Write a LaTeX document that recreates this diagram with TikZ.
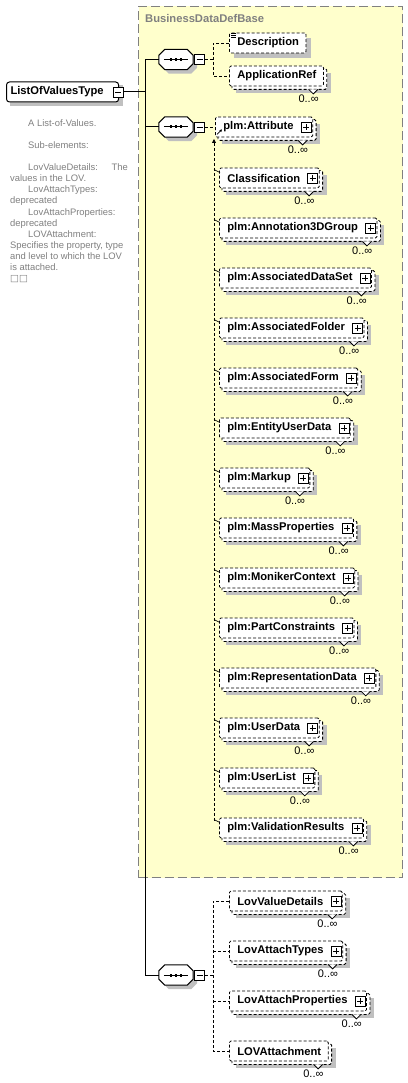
\documentclass[tikz,border=0pt]{standalone}
\usepackage{fontspec}
\setmainfont{Liberation Sans}
\newfontfamily\symf{DejaVu Sans}
\usetikzlibrary{arrows.meta}
\pgfdeclarelayer{ybg}
\pgfdeclarelayer{shd}
\pgfsetlayers{ybg,shd,main}
\definecolor{ylw}{RGB}{255,255,204}
\definecolor{shdc}{RGB}{192,192,192}
\definecolor{gtxt}{RGB}{128,128,128}
\tikzset{
  elembox/.style={draw, dash pattern=on 3pt off 2pt, fill=white, rounded corners=1.5pt,
    minimum height=20pt, inner ysep=0pt, inner xsep=0pt, anchor=west, line width=0.8pt,
    font=\fontsize{11.2}{12}\selectfont\bfseries},
  typebox/.style={draw, fill=white, rounded corners=3pt, minimum height=20pt, inner ysep=0pt,
    inner xsep=0pt, anchor=west, line width=1pt, font=\fontsize{11.2}{12}\selectfont\bfseries},
  conn/.style={line width=0.8pt, dash pattern=on 3pt off 2pt},
  solidc/.style={line width=1pt},
  multlbl/.style={font=\fontsize{11}{11}\selectfont, inner sep=0pt, anchor=north east},
  desctxt/.style={font=\fontsize{9.4}{10}\selectfont, text=gtxt, inner sep=0pt, anchor=base west},
  seqnode/.style={minimum width=34pt, minimum height=20pt, inner sep=0pt},
  plusbox/.style={draw, solid, fill=white, minimum size=10pt, inner sep=0pt, line width=0.7pt,
    path picture={\draw[line width=0.7pt]
      ([xshift=-3pt]path picture bounding box.center) -- ([xshift=3pt]path picture bounding box.center)
      ([yshift=-3pt]path picture bounding box.center) -- ([yshift=3pt]path picture bounding box.center);}},
  minusbox/.style={draw, solid, fill=white, minimum size=10pt, inner sep=0pt, line width=0.7pt,
    path picture={\draw[line width=0.7pt]
      ([xshift=-3pt]path picture bounding box.center) -- ([xshift=3pt]path picture bounding box.center);}},
}
% element: name, x, y, label, plus(1/0), multiple(1/0)
\newcommand\elem[6]{%
  \node[elembox] (#1) at (#2,#3) {\kern8pt #4\ifnum#5=1\relax\kern19pt\else\kern7pt\fi};
  \ifnum#5=1\relax
    \node[plusbox, anchor=east] (#1-p) at ([xshift=-1.5pt]#1.east) {};
  \fi
  \begin{pgfonlayer}{shd}
  \ifnum#6=1\relax
    \fill[shdc] ([shift={(7,7)}]#1.north west) rectangle ([shift={(7,7)}]#1.south east);
    \draw[conn, fill=white, rounded corners=1.5pt] ([shift={(3,3)}]#1.north west) rectangle ([shift={(3,3)}]#1.south east);
  \else
    \fill[shdc] ([shift={(5,5)}]#1.north west) rectangle ([shift={(5,5)}]#1.south east);
  \fi
  \end{pgfonlayer}
  \ifnum#6=1\relax
    \draw[line width=0.8pt, fill=white] ([shift={(-15,3)}]#1.south east) -- ([shift={(-10.5,7.5)}]#1.south east) -- ([shift={(-6,3)}]#1.south east);
    \node[multlbl] (#1-m) at ([shift={(-5,8.5)}]#1.south east) {0..∞};
  \fi
}
\newcommand\octpath[3]{([shift={(6+#2,#3)}]#1.north west) -- ([shift={(-6+#2,#3)}]#1.north east) -- ([shift={(#2,6+#3)}]#1.north east) -- ([shift={(#2,-6+#3)}]#1.south east) -- ([shift={(-6+#2,#3)}]#1.south east) -- ([shift={(6+#2,#3)}]#1.south west) -- ([shift={(#2,-6+#3)}]#1.south west) -- ([shift={(#2,6+#3)}]#1.north west) -- cycle}
% sequence compositor: name, x, y
\newcommand\seqc[3]{%
  \node[seqnode] (#1) at (#2,#3) {};
  \fill[shdc] \octpath{#1}{4}{4};
  \draw[fill=white, line width=1pt] \octpath{#1}{0}{0};
  \draw[line width=1pt] ([shift={(5,0)}]#1.west) -- ([shift={(-5,0)}]#1.east);
  \foreach \dx in {-5,0,5}{\fill ([shift={(\dx-1.3,-1.5)}]#1.center) rectangle ([shift={(\dx+1.3,1.5)}]#1.center);}
  \node[minusbox, anchor=west] (#1-m) at ([xshift=1pt]#1.east) {};
}
\newcommand\subm[1]{%
  \draw[line width=0.7pt] ([shift={(0,2)}]#1.north west -| subx) -- ([shift={(1,5)}]#1.north west);
}
\begin{document}
\begin{tikzpicture}[x=1pt, y=-1pt]
\useasboundingbox (0,0) rectangle (407,1083);
\begin{pgfonlayer}{ybg}
  \fill[white] (0,0) rectangle (407,1083);
  \node[draw=gtxt, fill=ylw, line width=1pt, dash pattern=on 9pt off 4pt, minimum width=264pt,
        minimum height=871pt, anchor=north west, inner sep=0pt] (base) at (138,6) {};
\end{pgfonlayer}
\node[anchor=base west, inner sep=0pt, text=gtxt, font=\fontsize{11.2}{12}\selectfont\bfseries] (basettl) at (145,23) {BusinessDataDefBase};

% root type
\node[typebox] (lov) at (6,92) {\kern4pt ListOfValuesType\kern15pt};
\begin{pgfonlayer}{shd}
  \fill[shdc] ([shift={(4,4)}]lov.north west) rectangle ([shift={(4,4)}]lov.south east);
\end{pgfonlayer}
\node[minusbox] (lov-m) at ([xshift=-1pt]lov.east) {};

% description text
\node[desctxt] (d1) at (28,127) {A List-of-Values.};
\node[desctxt] (d2) at (28,149) {Sub-elements:};
\node[desctxt] (d3) at (28,171) {LovValueDetails:};
\node[desctxt, anchor=base east] (d3b) at (128,171) {The};
\node[desctxt] (d4) at (10,182) {values in the LOV.};
\node[desctxt] (d5) at (28,193) {LovAttachTypes:};
\node[desctxt] (d6) at (10,204) {deprecated};
\node[desctxt] (d7) at (28,215) {LovAttachProperties:};
\node[desctxt] (d8) at (10,226) {deprecated};
\node[desctxt] (d9) at (28,237) {LOVAttachment:};
\node[desctxt] (d10) at (10,248) {Specifies the property, type};
\node[desctxt] (d11) at (10,259) {and level to which the LOV};
\node[desctxt] (d12) at (10,270) {is attached.};
\node[desctxt] (d13) at (10,281) {\symf □□};

% compositors
\seqc{s1}{176}{59.5}
\seqc{s2}{176}{127}
\seqc{s3}{176}{975}

% trunk
\coordinate (tj) at (145,92);
\draw[solidc] (lov-m.east) -- (tj);
\draw[solidc] (s1.west) -- (s1.west -| tj) -- (s3.west -| tj) -- (s3.west);
\draw[solidc] (s2.west) -- (s2.west -| tj);

% group 1
\elem{desc}{229}{43}{Description}{0}{0}
\elem{appref}{229}{76}{ApplicationRef}{0}{1}
\foreach \k in {0,2,4}{\draw[line width=0.7pt] ([shift={(2,1+\k)}]desc.north west) -- ([shift={(7,1+\k)}]desc.north west);}
\coordinate (s1j) at (213,59.5);
\draw[conn] (s1-m.east) -- (s1j);
\draw[conn] (desc.west) -- (desc.west -| s1j) -- (appref.west -| s1j) -- (appref.west);

% group 2 : substitution group
\elem{attr}{215}{127}{plm:Attribute}{1}{1}
\draw[conn] (s2-m.east) -- (attr.west);
\draw[line width=0.8pt, -{Triangle[length=2.5pt,width=2.5pt]}] ([shift={(2,-3)}]attr.south west) -- ([shift={(7,-8)}]attr.south west);
\elem{m1}{219}{178}{Classification}{1}{1}
\elem{m2}{219}{228}{plm:Annotation3DGroup}{1}{1}
\elem{m3}{219}{278}{plm:AssociatedDataSet}{1}{1}
\elem{m4}{219}{328}{plm:AssociatedFolder}{1}{1}
\elem{m5}{219}{378}{plm:AssociatedForm}{1}{1}
\elem{m6}{219}{428}{plm:EntityUserData}{1}{1}
\elem{m7}{219}{478}{plm:Markup}{1}{1}
\elem{m8}{219}{528}{plm:MassProperties}{1}{1}
\elem{m9}{219}{578}{plm:MonikerContext}{1}{1}
\elem{m10}{219}{628}{plm:PartConstraints}{1}{1}
\elem{m11}{219}{678}{plm:RepresentationData}{1}{1}
\elem{m12}{219}{728}{plm:UserData}{1}{1}
\elem{m13}{219}{778}{plm:UserList}{1}{1}
\elem{m14}{219}{828}{plm:ValidationResults}{1}{1}
\coordinate (subx) at (214,0);
\coordinate (subtop) at (214,139);
\coordinate (subbot) at (214,822);
\draw[conn, {Triangle[length=4pt,width=4pt]}-] (subtop) -- (subbot);
\foreach \m in {m1,m2,m3,m4,m5,m6,m7,m8,m9,m10,m11,m12,m13,m14}{\subm{\m}}

% group 3
\elem{lvd}{229}{901}{LovValueDetails}{1}{1}
\elem{lat}{229}{951}{LovAttachTypes}{1}{1}
\elem{lap}{229}{1001}{LovAttachProperties}{1}{1}
\elem{lova}{229}{1051}{LOVAttachment}{0}{1}
\coordinate (s3j) at (213,975);
\draw[conn] (s3-m.east) -- (s3j);
\draw[conn] (lvd.west) -- (lvd.west -| s3j) -- (lova.west -| s3j) -- (lova.west);
\draw[conn] (lat.west -| s3j) -- (lat.west);
\draw[conn] (lap.west -| s3j) -- (lap.west);
\end{tikzpicture}
\end{document}
